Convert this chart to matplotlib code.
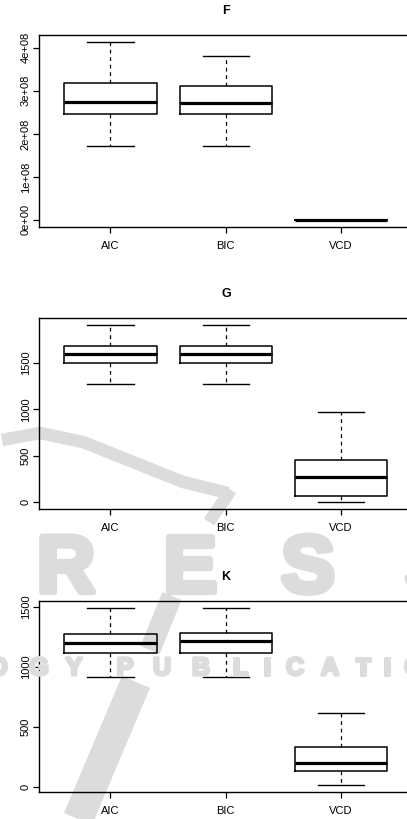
import matplotlib
matplotlib.use("Agg")
import matplotlib.pyplot as plt
import matplotlib.patheffects as pe
from matplotlib.lines import Line2D

plt.rcParams['font.family'] = ['Liberation Sans', 'DejaVu Sans']

methods = ["AIC", "BIC", "VCD"]

# five-number summaries, one list per statistic
f_low = [1.715e8, 1.715e8, 0.0]
f_q1 = [2.47e8, 2.47e8, 0.0]
f_med = [2.75e8, 2.71e8, 0.0]
f_q3 = [3.18e8, 3.10e8, 0.0]
f_high = [4.13e8, 3.80e8, 0.0]

g_low = [1273, 1270, 0]
g_q1 = [1503, 1500, 65]
g_med = [1600, 1597, 270]
g_q3 = [1687, 1687, 449]
g_high = [1906, 1913, 967]

k_low = [920, 920, 20]
k_q1 = [1117, 1117, 131]
k_med = [1200, 1214, 203]
k_q3 = [1272, 1283, 333]
k_high = [1494, 1494, 617]

f_ticks = [0, 1e8, 2e8, 3e8, 4e8]
f_ticklabels = ["0e+00", "1e+08", "2e+08", "3e+08", "4e+08"]
gk_ticks = [0, 500, 1000, 1500]
gk_ticklabels = ["0", "500", "1000", "1500"]

panels = [
    ("F", (f_low, f_q1, f_med, f_q3, f_high), f_ticks, f_ticklabels),
    ("G", (g_low, g_q1, g_med, g_q3, g_high), gk_ticks, gk_ticklabels),
    ("K", (k_low, k_q1, k_med, k_q3, k_high), gk_ticks, gk_ticklabels),
]

W, H = 407.0, 819.0
fig = plt.figure(figsize=(4.07, 8.19), dpi=100)

# --- faint publisher watermark behind the plots ---
wm = '#dcdcdc'
def px(x, y):
    return x / W, 1 - y / H

arc = [(2, 440), (40, 433), (83, 442), (133, 462), (183, 482), (228, 493)]
fig.add_artist(Line2D([px(*p)[0] for p in arc], [px(*p)[1] for p in arc],
                      color=wm, lw=9, solid_capstyle='butt', zorder=0))
for (a, b, lw) in [((231, 490), (209, 522), 9), ((172, 596), (150, 650), 15),
                   ((136, 682), (78, 819), 22)]:
    fig.add_artist(Line2D([px(*a)[0], px(*b)[0]], [px(*a)[1], px(*b)[1]],
                          color=wm, lw=lw, solid_capstyle='butt', zorder=0))

fat = [pe.withStroke(linewidth=4.5, foreground=wm)]
for ch, xc in zip("RESS", [66, 190, 308, 432]):
    fig.text(*px(xc, 592), ch, ha='center', va='baseline', fontsize=58,
             fontweight='bold', color=wm, zorder=0, path_effects=fat)
thin = [pe.withStroke(linewidth=2.2, foreground=wm)]
for ch, xc in zip("OGYPUBLICATIO", [-2, 39, 74, 125, 162, 201, 240, 267, 295,
                                    330, 363, 387, 414]):
    fig.text(*px(xc, 675), ch, ha='center', va='baseline', fontsize=18,
             fontweight='bold', color=wm, zorder=0, path_effects=thin)

# axes boxes in figure fraction (left, bottom, width, height)
rects = [
    [0.0958, 0.7228, 0.918, 0.2344],
    [0.0958, 0.3785, 0.918, 0.2336],
    [0.0958, 0.0333, 0.918, 0.2332],
]

for (title, stats, ticks, ticklabels), rect in zip(panels, rects):
    ax = fig.add_axes(rect)
    ax.set_facecolor('none')
    low, q1, med, q3, high = stats
    bstats = []
    for i, m in enumerate(methods):
        bstats.append(dict(label=m, whislo=low[i], q1=q1[i], med=med[i],
                           q3=q3[i], whishi=high[i], fliers=[]))
    ax.bxp(bstats, positions=[1, 2, 3], widths=0.8, showfliers=False,
           boxprops=dict(color='black', linewidth=1.1),
           medianprops=dict(color='black', linewidth=2.3, solid_capstyle='butt'),
           whiskerprops=dict(color='black', linewidth=0.9, linestyle=(0, (3, 3))),
           capprops=dict(color='black', linewidth=1.0),
           capwidths=0.4)

    lo = min(low)
    hi = max(high)
    pad = (hi - lo) * 0.04
    ax.set_ylim(lo - pad, hi + pad)
    ax.set_xlim(0.38, 3.62)

    ax.set_yticks(ticks)
    ax.set_yticklabels(ticklabels, rotation=90, va='center')
    ax.set_xticks([1, 2, 3])
    ax.set_xticklabels(methods)
    ax.tick_params(axis='y', length=4.5, width=0.9, pad=1.5, labelsize=8)
    ax.tick_params(axis='x', length=4.5, width=0.9, pad=5.5, labelsize=8)
    for s in ax.spines.values():
        s.set_linewidth(1.0)

    top = rect[1] + rect[3]
    fig.text(226 / W, top + 24 / H, title, ha='center', va='center',
             fontsize=9, fontweight='bold')

fig.savefig("out.png", dpi=100)
